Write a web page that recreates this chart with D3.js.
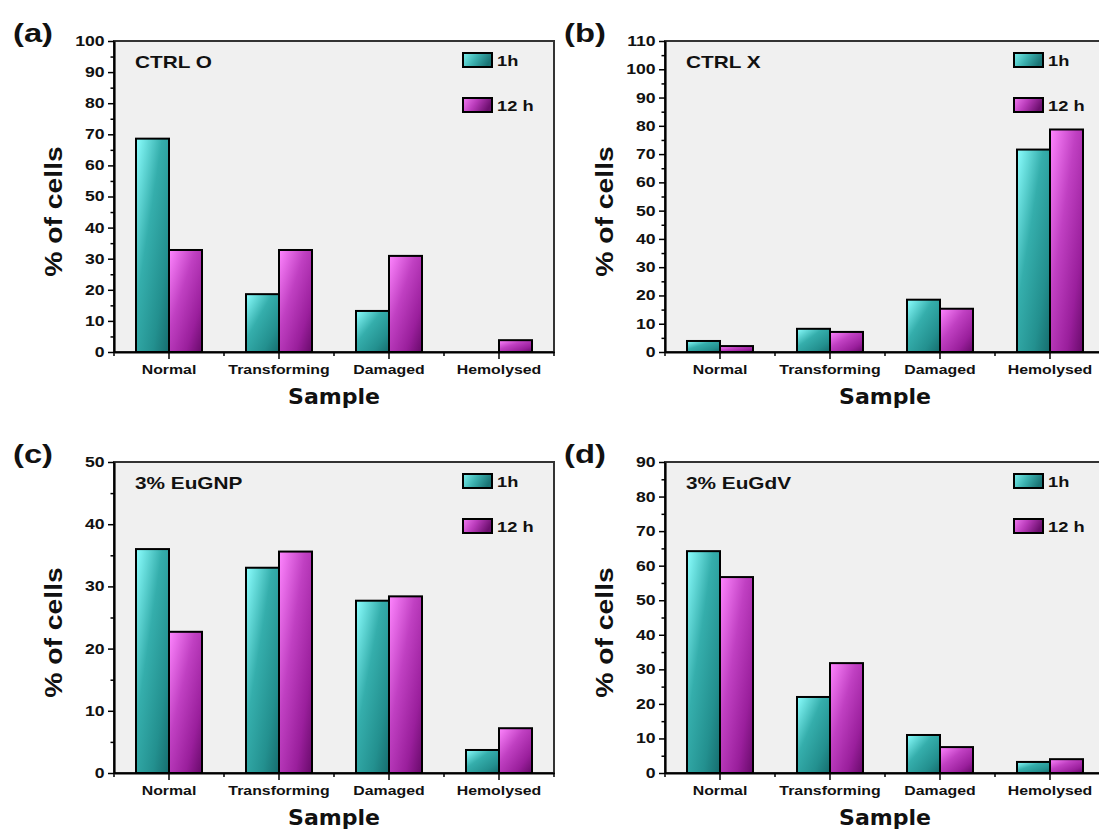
<!DOCTYPE html>
<meta charset="utf-8">
<script src="https://d3js.org/d3.v7.min.js"></script>
<style>
  body { margin: 0; background: #fff; }
  text { font-family: "Liberation Sans", Arial, sans-serif; font-weight: bold; fill: #111; }
</style>
<div id="chart"></div>
<script>
// categories and series
const categories = ["Normal", "Transforming", "Damaged", "Hemolysed"];
const series = ["1h", "12 h"];

// values (% of cells)
const ctrlO_1h  = [68.6, 18.6, 13.2, 0];
const ctrlO_12h = [32.8, 32.8, 30.9, 3.8];
const ctrlX_1h  = [3.9, 8.2, 18.5, 71.6];
const ctrlX_12h = [2.1, 7.1, 15.3, 78.7];
const euGNP_1h  = [36.0, 33.0, 27.7, 3.7];
const euGNP_12h = [22.7, 35.6, 28.4, 7.2];
const euGdV_1h  = [64.2, 22.0, 11.0, 3.2];
const euGdV_12h = [56.7, 31.8, 7.5, 4.0];

const yMaxes = [100, 110, 50, 90];
const panelTags = ["(a)", "(b)", "(c)", "(d)"];
const panelTitles = ["CTRL O", "CTRL X", "3% EuGNP", "3% EuGdV"];

// layout
const plotW = 440, plotH = 311;
const panels = [
  {left: 114, top: 41, v1: ctrlO_1h, v12: ctrlO_12h},
  {left: 665, top: 41, v1: ctrlX_1h, v12: ctrlX_12h},
  {left: 114, top: 462, v1: euGNP_1h, v12: euGNP_12h},
  {left: 665, top: 462, v1: euGdV_1h, v12: euGdV_12h}
];
const SX = 1.26; // figure is horizontally stretched

const svg = d3.select("#chart").append("svg")
  .attr("width", 1099).attr("height", 829);

// gradients
const defs = svg.append("defs");
function grad(id, stops, x2, y2) {
  const g = defs.append("linearGradient").attr("id", id)
    .attr("x1", 0).attr("y1", 0).attr("x2", x2).attr("y2", y2);
  stops.forEach(s => g.append("stop").attr("offset", s[0]).attr("stop-color", s[1]));
}
const cyanStops = [[0, "#8cffff"], [0.4, "#35aeac"], [0.75, "#23908f"], [1, "#166d6e"]];
const magStops  = [[0, "#ff86ff"], [0.4, "#c040c2"], [0.75, "#9a1f9c"], [1, "#680a6a"]];
grad("cyan", cyanStops, 1, 1);
grad("mag", magStops, 1, 1);
grad("cyanL", [[0, "#7ef0ee"], [0.5, "#3db3b1"], [1, "#1a7475"]], 1, 0.3);
grad("magL", [[0, "#f27af2"], [0.5, "#b83ab9"], [1, "#6d0f6f"]], 1, 0.3);

function stretchText(g, x, y, str, size, anchor, sx) {
  return g.append("text")
    .attr("transform", `translate(${x},${y}) scale(${sx || SX},1)`)
    .attr("text-anchor", anchor || "start")
    .style("font-size", size + "px")
    .text(str);
}

panels.forEach((p, i) => {
  const g = svg.append("g").attr("transform", `translate(${p.left},${p.top})`);

  const x0 = d3.scaleBand().domain(categories).range([0, plotW])
    .paddingInner(0.4).paddingOuter(0.2);
  const x1 = d3.scaleBand().domain(series).range([0, x0.bandwidth()]);
  const y = d3.scaleLinear().domain([0, yMaxes[i]]).range([plotH, 0]);

  // plot background & frame
  g.append("rect").attr("width", plotW).attr("height", plotH)
    .attr("fill", "#f0f0f0").attr("stroke", "#333").attr("stroke-width", 2);

  // bars
  const rows = categories.map((c, k) => ({cat: c, vals: [p.v1[k], p.v12[k]]}));
  g.selectAll(".grp").data(rows).join("g")
    .attr("transform", d => `translate(${x0(d.cat)},0)`)
    .selectAll("rect")
    .data(d => d.vals.map((v, s) => ({s: series[s], v: v})).filter(e => e.v > 0))
    .join("rect")
    .attr("x", d => x1(d.s))
    .attr("y", d => y(d.v))
    .attr("width", x1.bandwidth())
    .attr("height", d => plotH - y(d.v))
    .attr("fill", d => d.s === "1h" ? "url(#cyan)" : "url(#mag)")
    .attr("stroke", "#000").attr("stroke-width", 2);

  // y axis: major + minor ticks
  const yMinor = d3.range(5, yMaxes[i], 10);
  g.append("g").call(d3.axisLeft(y).tickValues(yMinor).tickSize(3.5).tickFormat(""))
    .call(a => a.select(".domain").remove())
    .selectAll("line").attr("stroke-width", 1.5);
  const ya = g.append("g").call(d3.axisLeft(y).tickValues(d3.range(0, yMaxes[i] + 1, 10)).tickSize(6).tickSizeOuter(0));
  ya.select(".domain").attr("stroke-width", 2.2);
  ya.selectAll("line").attr("stroke-width", 1.5);
  ya.selectAll("text").attr("x", -7.5).attr("transform", `scale(${SX},1)`)
    .style("font-size", "14px").style("font-family", "'Liberation Sans', Arial, sans-serif");

  // x axis
  const bounds = d3.range(0, 5).map(k => k * x0.step());
  const minorX = g.append("g").attr("transform", `translate(0,${plotH})`);
  minorX.selectAll("line").data(bounds).join("line")
    .attr("x1", d => d).attr("x2", d => d).attr("y1", 0).attr("y2", 4)
    .attr("stroke", "#000").attr("stroke-width", 1.5);
  const xa = g.append("g").attr("transform", `translate(0,${plotH})`)
    .call(d3.axisBottom(x0).tickSize(7).tickSizeOuter(0).tickPadding(6));
  xa.select(".domain").attr("stroke-width", 2.2);
  xa.selectAll("line").attr("stroke-width", 1.5);
  xa.selectAll("text").attr("transform", "scale(1.22,1)")
    .style("font-size", "13px").style("font-family", "'Liberation Sans', Arial, sans-serif");

  // titles
  stretchText(g, plotW / 2, plotH + 52, "Sample", 21, "middle", 1.05)
    .style("font-family", "'DejaVu Sans', Verdana, sans-serif");
  g.append("text")
    .attr("transform", `translate(-52,${plotH / 2 + 15}) rotate(-90) scale(1.18,1)`)
    .attr("text-anchor", "middle")
    .style("font-size", "24px")
    .text("% of cells");
  stretchText(g, -101, 1, panelTags[i], 26, "start");
  stretchText(g, 21, 27, panelTitles[i], 16.5, "start");

  // legend
  const lg = g.append("g").attr("transform", "translate(349,12)");
  series.forEach((s, k) => {
    lg.append("rect").attr("x", 0).attr("y", k * 45).attr("width", 29).attr("height", 14)
      .attr("fill", k === 0 ? "url(#cyanL)" : "url(#magL)")
      .attr("stroke", "#000").attr("stroke-width", 2);
    stretchText(lg, 34, k * 45 + 13, s, 14.5, "start");
  });
});
</script>
